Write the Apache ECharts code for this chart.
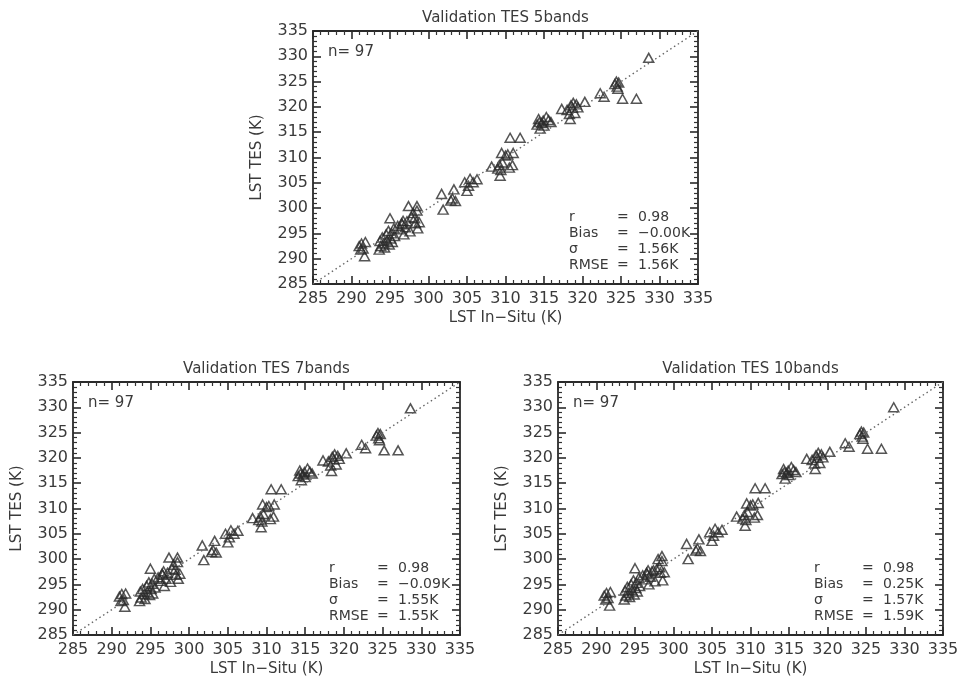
<!DOCTYPE html>
<html><head><meta charset="utf-8">
<script src="https://cdn.jsdelivr.net/npm/echarts@6/dist/echarts.min.js"></script>
<style>html,body{margin:0;padding:0;background:#fff}#c{width:962px;height:680px}</style>
</head><body><div id="c"></div>
<script>
// In-situ LST (K), shared by all three panels
const xInSitu = [
 291.0,291.3,291.5,291.7,291.2,291.8,
 293.6,293.8,293.7,294.0,294.2,294.3,294.5,294.6,294.8,294.9,295.1,295.3,295.0,295.5,295.2,295.6,
 296.0,296.3,296.5,296.7,296.8,297.0,296.6,297.2,297.4,297.6,297.8,298.0,298.2,298.3,298.5,298.5,298.6,298.8,
 301.7,301.9,302.9,303.1,303.3,303.5,304.7,305.0,305.2,305.4,305.8,306.3,
 308.2,309.2,309.3,309.4,309.5,309.6,310.0,310.3,310.6,310.9,311.0,311.9,309.0,310.5,
 314.1,314.3,314.4,314.5,314.7,315.0,315.3,315.6,315.9,314.9,
 317.3,318.0,318.3,318.4,318.5,318.7,319.0,319.2,319.4,320.3,318.8,
 322.3,322.8,324.2,324.4,324.5,324.6,324.7,325.2,327.0,328.6
];
const yTES5 = [
 292.5,293.0,292.0,290.5,291.8,293.3,
 291.8,292.5,293.5,294.2,293.0,292.2,294.8,293.6,295.5,292.8,294.0,293.3,298.0,296.0,295.0,294.5,
 296.5,295.8,297.0,297.5,294.8,296.2,296.8,297.4,300.4,295.4,298.2,299.0,298.0,297.0,300.4,299.5,296.0,297.2,
 302.8,299.7,301.5,301.9,303.7,301.4,305.1,303.4,304.4,305.8,305.1,305.7,
 308.2,308.5,306.4,307.5,310.9,309.0,310.4,310.6,313.9,308.5,310.9,313.9,307.8,308.0,
 316.5,317.6,317.0,315.7,316.8,316.3,318.0,317.4,317.0,317.3,
 319.6,319.4,318.6,317.6,320.3,319.8,318.8,320.5,319.9,321.0,320.8,
 322.7,322.0,324.5,325.0,324.0,323.6,324.8,321.6,321.6,329.7
];
const yTES7 = [
 292.6,293.1,291.9,290.6,291.7,293.2,
 291.7,292.4,293.6,294.1,293.1,292.1,294.7,293.5,295.4,292.9,294.1,293.2,298.1,296.1,295.1,294.4,
 296.4,295.7,297.1,297.6,294.7,296.1,296.9,297.3,300.3,295.5,298.1,298.9,297.9,296.9,300.3,299.4,296.1,297.1,
 302.7,299.8,301.4,301.8,303.6,301.3,305.0,303.3,304.3,305.7,305.0,305.6,
 308.1,308.4,306.3,307.4,310.8,308.9,310.3,310.5,313.8,308.4,310.8,313.8,307.7,307.9,
 316.4,317.5,316.9,315.6,316.7,316.2,317.9,317.3,316.9,317.2,
 319.5,319.3,318.5,317.4,320.2,319.7,318.7,320.4,319.8,320.9,320.7,
 322.6,321.9,324.4,324.9,323.9,323.5,324.7,321.5,321.5,329.8
];
const yTES10 = [
 292.8,293.3,292.3,290.8,292.0,293.5,
 292.0,292.8,293.8,294.5,293.3,292.5,295.0,293.9,295.8,293.0,294.3,293.6,298.2,296.3,295.3,294.7,
 296.8,296.0,297.3,297.8,295.0,296.5,297.0,297.6,297.8,295.6,298.0,300.0,298.4,297.3,300.6,299.6,295.8,297.4,
 303.0,300.0,301.7,302.1,303.9,301.6,305.3,303.6,304.6,306.0,305.3,305.8,
 308.4,308.7,306.6,307.7,311.0,309.3,310.6,310.8,314.0,308.7,311.1,314.0,308.0,308.2,
 316.8,317.8,317.2,315.9,317.0,316.6,318.2,317.6,317.2,317.5,
 319.8,319.6,318.9,317.8,320.5,320.0,319.0,320.7,320.1,321.2,321.0,
 322.9,322.2,324.7,325.2,324.2,323.8,325.0,321.8,321.8,330.0
];
const titles = ['Validation TES 5bands','Validation TES 7bands','Validation TES 10bands'];
const nLabel = 'n= 97';
const statNames = ['r','Bias','\u03c3','RMSE'];
const statValues = [
 ['0.98','\u22120.00K','1.56K','1.56K'],
 ['0.98','\u22120.09K','1.55K','1.55K'],
 ['0.98','0.25K','1.57K','1.59K']
];
const axisMin = 285, axisMax = 335, axisStep = 5;
const xName = 'LST In\u2212Situ (K)', yName = 'LST TES (K)';
const ySets = [yTES5, yTES7, yTES10];

const grids = [
 {left:313, top:31, width:385, height:253},
 {left:73, top:382, width:387, height:253},
 {left:558, top:382, width:385, height:253}
];
const FONT = 'DejaVu Sans';
const TXT = '#3a3a3a';
const option = {animation:false, backgroundColor:'#fff', grid:[], xAxis:[], yAxis:[], series:[], graphic:[]};

function mkAxis(i, extra){
  return Object.assign({
    type:'value', min:axisMin, max:axisMax, interval:axisStep, gridIndex:i,
    axisLine:{show:true, onZero:false, lineStyle:{color:'#2a2a2a', width:1.8}},
    axisTick:{show:true, inside:true, length:8, lineStyle:{color:'#2a2a2a', width:1.6}},
    minorTick:{show:true, splitNumber:5, length:4, lineStyle:{color:'#333', width:1.2}},
    splitLine:{show:false}, minorSplitLine:{show:false}
  }, extra);
}

grids.forEach((g,i)=>{
  option.grid.push(Object.assign({}, g));
  option.xAxis.push(mkAxis(i, {position:'bottom',
    axisLabel:{show:true, margin:7, fontFamily:FONT, fontSize:16, color:TXT},
    name:xName, nameLocation:'middle', nameGap:27,
    nameTextStyle:{fontFamily:FONT, fontSize:15, color:TXT}}));
  option.xAxis.push(mkAxis(i, {position:'top', axisLabel:{show:false}}));
  option.yAxis.push(mkAxis(i, {position:'left',
    axisLabel:{show:true, margin:5, fontFamily:FONT, fontSize:16, color:TXT},
    name:yName, nameLocation:'middle', nameGap:48,
    nameTextStyle:{fontFamily:FONT, fontSize:15, color:TXT}}));
  option.yAxis.push(mkAxis(i, {position:'right', axisLabel:{show:false}}));

  option.series.push({
    type:'line', xAxisIndex:2*i, yAxisIndex:2*i, data:[[axisMin,axisMin],[axisMax,axisMax]],
    symbol:'none', silent:true, lineStyle:{color:'#666', width:1.4, type:[1.5,3]}
  });
  option.series.push({
    type:'scatter', xAxisIndex:2*i, yAxisIndex:2*i,
    data: xInSitu.map((x,k)=>[x, ySets[i][k]]),
    symbol:'triangle', symbolSize:[10,9],
    itemStyle:{color:'rgba(255,255,255,0)', borderColor:'#2a2a2a', borderWidth:1.5}
  });

  const cx = g.left + g.width/2;
  option.graphic.push({type:'text', x:cx, y:g.top-13, style:{text:titles[i], textAlign:'center', textVerticalAlign:'middle', font:'15px "DejaVu Sans"', fill:TXT}});
  option.graphic.push({type:'text', x:g.left+15, y:g.top+21, style:{text:nLabel, textVerticalAlign:'middle', font:'15px "DejaVu Sans"', fill:TXT}});
  statNames.forEach((s,k)=>{
    const ty = g.top + g.height - 67 + k*16;
    option.graphic.push({type:'text', x:g.left+256, y:ty, style:{text:s, textVerticalAlign:'middle', font:'14px "DejaVu Sans"', fill:TXT}});
    option.graphic.push({type:'text', x:g.left+304, y:ty, style:{text:'=', textVerticalAlign:'middle', font:'14px "DejaVu Sans"', fill:TXT}});
    option.graphic.push({type:'text', x:g.left+325, y:ty, style:{text:statValues[i][k], textVerticalAlign:'middle', font:'14px "DejaVu Sans"', fill:TXT}});
  });
});

const chart = echarts.init(document.getElementById('c'), null, {renderer:'canvas'});
chart.setOption(option);
</script></body></html>
